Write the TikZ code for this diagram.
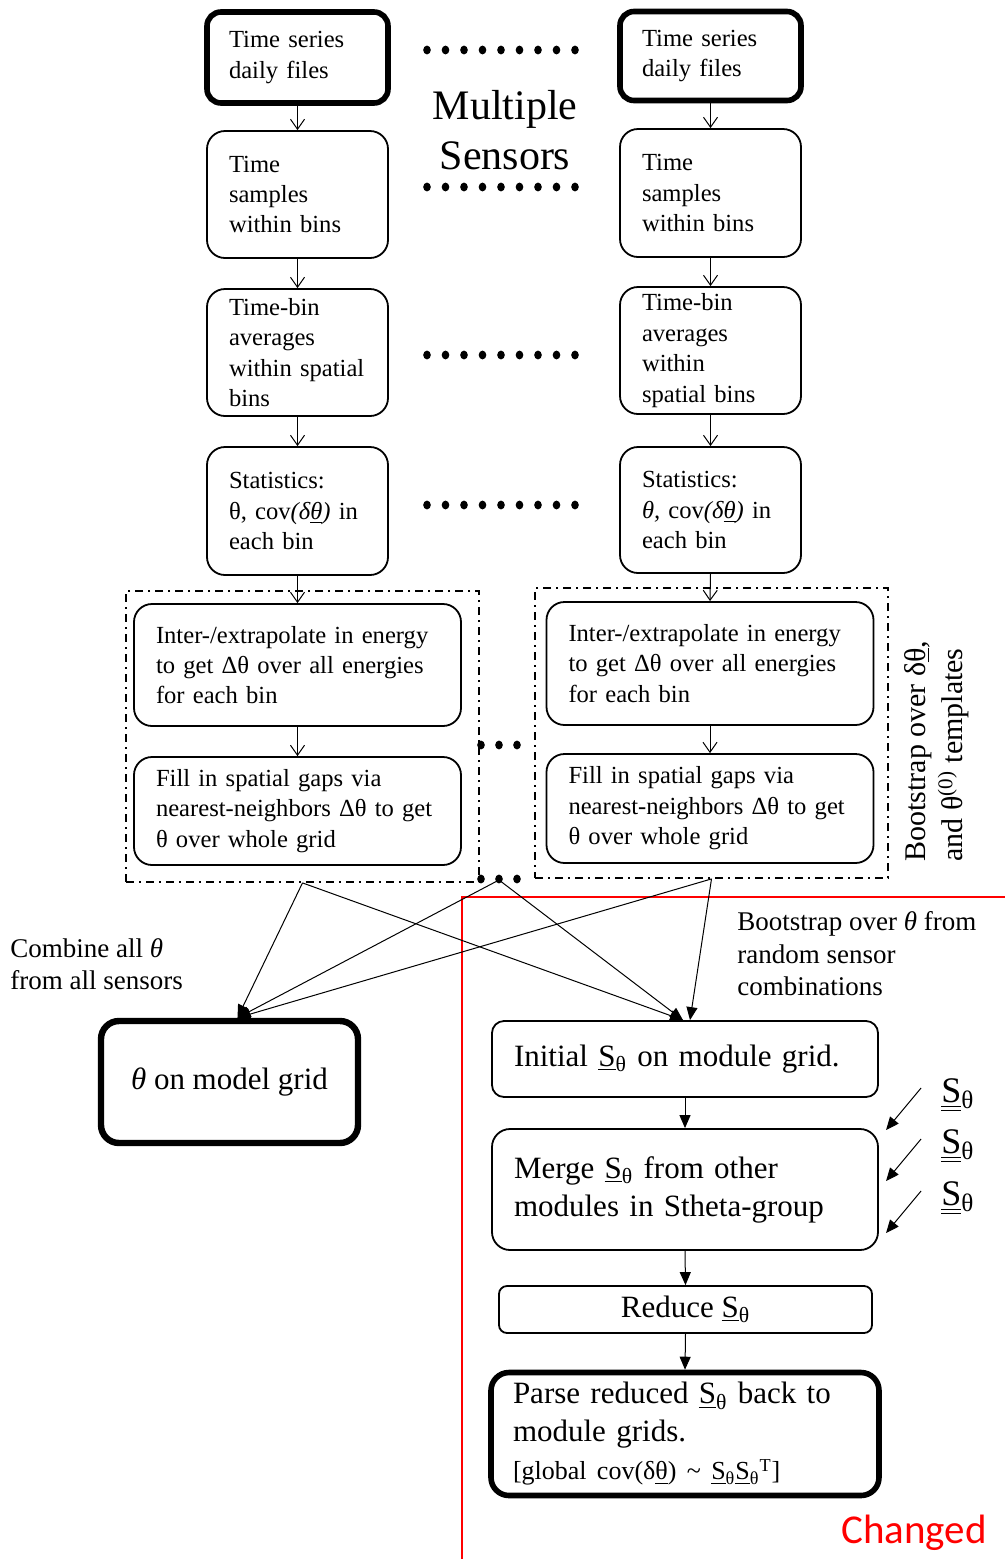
\documentclass[tikz,border=0pt]{standalone}
\usepackage{fontspec}
\setmainfont{Liberation Serif}
\newfontfamily\chgfont{Carlito}
\usetikzlibrary{calc}
\usetikzlibrary{arrows.meta}

\begin{document}
\begin{tikzpicture}[x=0.5pt,y=-0.5pt,
  font=\fontsize{12.3}{15.2}\selectfont,
  boxn/.style={draw, line width=0.9pt, rounded corners=9pt, align=left,
    inner xsep=11pt, inner ysep=0pt},
  thickn/.style={line width=2.8pt, rounded corners=7pt},
  colbox/.style={boxn, text width=68.5pt, minimum height=63.5pt},
  widebox/.style={boxn, text width=141.5pt},
  bign/.style={font=\fontsize{15.5}{19}\selectfont},
  grpn/.style={draw, line width=0.9pt, minimum width=176.5pt,
    dash pattern=on 4pt off 2.5pt on 1pt off 2.5pt},
  noten/.style={align=left, inner sep=0pt, font=\fontsize{13.5}{16.3}\selectfont},
  openarr/.style={line width=0.5pt, -{Straight Barb[length=5pt,width=7pt]}},
  fillarr/.style={line width=0.5pt, -{Triangle[length=6.5pt,width=5.5pt]}}]
  \useasboundingbox (0,0) rectangle (1005,1559);

  \node[colbox, thickn, minimum height=45.5pt] (ts1) at (297.5,57.5) {Time series\\daily files};
  \node[colbox] (smp1) at (297.5,194.5) {Time\\samples\\within bins};
  \node[colbox] (avg1) at (297.5,352.5) {Time-bin\\averages\\within spatial\\bins};
  \node[colbox, minimum height=64pt] (st1) at (297.5,511) {Statistics:\\θ, cov\textit{(δ\underline{θ})} in\\each bin};
  \node[widebox, minimum height=61pt] (ip1) at (297.5,665) {Inter-/extrapolate in energy\\to get Δθ over all energies\\for each bin};
  \node[widebox, minimum height=54pt] (gap1) at (297.5,811) {Fill in spatial gaps via\\nearest-neighbors Δθ to get\\θ over whole grid};
  \node[grpn, minimum height=145.5pt] (grp1) at (302.5,736.5) {};

  \node[colbox, thickn, minimum height=44.5pt] (ts2) at (710.5,56) {Time series\\daily files};
  \node[colbox, minimum height=64pt] (smp2) at (710.5,193) {Time\\samples\\within bins};
  \node[colbox] (avg2) at (710.5,350.5) {Time-bin\\averages\\within\\spatial bins};
  \node[colbox, minimum height=63pt] (st2) at (710.5,510) {Statistics:\\\textit{θ,} cov\textit{(δ\underline{θ})} in\\each bin};
  \node[widebox, minimum height=61.5pt] (ip2) at (710,663.5) {Inter-/extrapolate in energy\\to get Δθ over all energies\\for each bin};
  \node[widebox, minimum height=54.5pt] (gap2) at (710,808.5) {Fill in spatial gaps via\\nearest-neighbors Δθ to get\\θ over whole grid};
  \node[grpn, minimum height=145pt] (grp2) at (711.5,733) {};

  \foreach \a/\b in {ts1/smp1,smp1/avg1,avg1/st1,st1/ip1,ip1/gap1,ts2/smp2,smp2/avg2,avg2/st2,st2/ip2,ip2/gap2}
    \draw[openarr] (\a.south) -- (\b.north);

  \foreach \y in {50,187,355,505}
    \foreach \i in {0,...,8}
      \fill (427+18.5*\i,\y) ellipse (1.9pt and 2.2pt);
  \foreach \y in {745,879}
    \foreach \i in {0,1,2}
      \fill (481+18*\i,\y) ellipse (1.9pt and 2.2pt);
  \coordinate (gapdots) at (499,880);

  \node[align=center, font=\fontsize{21}{25}\selectfont] (multi) at (505,130) {Multiple\\Sensors};
  \node[rotate=90, align=left, inner sep=0pt, font=\fontsize{15}{18.5}\selectfont] (bootr) at (937,751)
    {Bootstrap over δ\underline{θ},\\and θ\textsuperscript{(0)} templates};

  \draw[red, line width=1pt] (462,1559) -- (462,897) -- (1005,897);

  \node[noten, anchor=west] (comb) at (10,964) {Combine all \textit{θ}\\from all sensors};
  \node[noten, anchor=west] (boot) at (737,954) {Bootstrap over \textit{θ} from\\random sensor\\combinations};

  \node[boxn, bign, thickn, line width=3.2pt, rounded corners=9pt, align=center,
    minimum width=128.5pt, minimum height=61pt] (theta) at (229.5,1082) {\textit{θ} on model grid};
  \node[boxn, bign, rounded corners=6pt, text width=171pt, minimum height=38pt] (init) at (685,1059)
    {Initial \underline{S}\textsubscript{θ} on module grid.};
  \node[boxn, bign, text width=171pt, minimum height=60.5pt] (merge) at (685,1189.5)
    {Merge \underline{S}\textsubscript{θ} from other\\modules in Stheta-group};
  \node[boxn, bign, rounded corners=4pt, align=center, minimum width=186.5pt, minimum height=23.5pt] (red) at (685.5,1309.5)
    {Reduce \underline{S}\textsubscript{θ}};
  \node[boxn, bign, thickn, rounded corners=9pt, text width=172pt, minimum height=61.5pt] (parse) at (685,1434)
    {Parse reduced \underline{S}\textsubscript{θ} back to\\module grids.\\{\fontsize{13}{16.5}\selectfont[global cov(δ\underline{θ}) \textasciitilde{} \underline{S}\textsubscript{θ}\underline{S}\textsubscript{θ}\textsuperscript{T}]}};

  \draw[fillarr] (grp1.south) -- ([xshift=4pt]theta.north);
  \draw[fillarr] (grp1.south) -- ([xshift=-1pt]init.north);
  \draw[fillarr] (gapdots) -- ([xshift=4pt]theta.north);
  \draw[fillarr] (gapdots) -- ([xshift=-1pt]init.north);
  \draw[fillarr] (grp2.south) -- ([xshift=4pt]theta.north);
  \draw[fillarr] (grp2.south) -- ([xshift=2.5pt]init.north);
  \draw[fillarr] (init.south) -- (merge.north);
  \draw[fillarr] (merge.south) -- (red.north);
  \draw[fillarr] (red.south) -- (parse.north);

  \foreach \n/\y in {1/1095,2/1146,3/1198} {
    \node[inner sep=0pt, font=\fontsize{18}{20}\selectfont] (s\n) at (958,\y) {\underline{\underline{S}}\textsubscript{θ}};
    \draw[fillarr] ([shift={(-10pt,3.5pt)}]s\n.west) -- ++(-17.5pt,-21pt);
  }

  \node[text=red, font=\chgfont\fontsize{20.5}{24}\selectfont] (chg) at (914,1533) {Changed};
\end{tikzpicture}
\end{document}
